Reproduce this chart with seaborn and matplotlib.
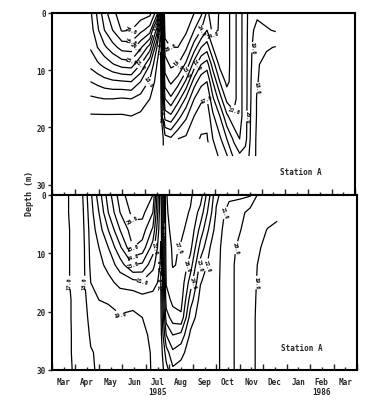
import numpy as np
import pandas as pd
import seaborn as sns
import matplotlib.pyplot as plt

nan = np.nan

# x axis: months since 1 Mar 1985
month_names = ['Mar', 'Apr', 'May', 'Jun', 'Jul', 'Aug', 'Sep', 'Oct', 'Nov', 'Dec', 'Jan', 'Feb', 'Mar']
year_labels = ['1985', '1986']
levels = [16, 17, 18, 19, 20, 21, 22, 23, 24, 25, 26, 27]

# upper section: sampling times and depths
time_top = [1.65, 1.95, 2.25, 2.6, 3.0, 3.4, 3.8, 4.2, 4.5, 4.65, 4.85, 5.1, 5.4, 5.75,
            6.1, 6.4, 6.65, 6.9, 7.2, 7.5, 7.8, 8.05, 8.3, 8.55, 8.8, 9.2, 9.6]
depth_top = [0, 3, 6, 9, 12, 15, 18, 22, 25]
# one profile per sampling date (surface -> bottom)
profiles_top = [
    [21.8, 21.5, 21.1, 20.3, 19.0, 17.8, 16.9, 16.6, 16.5],
    [23.2, 22.8, 22.0, 20.8, 19.3, 17.9, 16.9, 16.6, 16.5],
    [24.6, 24.0, 22.8, 21.3, 19.6, 18.0, 16.9, 16.6, 16.5],
    [25.7, 25.0, 23.6, 21.9, 19.8, 18.0, 16.9, 16.6, 16.5],
    [26.6, 26.1, 24.4, 22.4, 19.9, 17.9, 16.9, 16.6, 16.5],
    [26.6, 26.0, 24.5, 22.5, 20.0, 18.0, 17.0, 16.6, 16.5],
    [26.5, 25.3, 23.2, 21.0, 19.0, 17.6, 16.8, 16.5, 16.4],
    [26.3, 24.5, 21.5, 19.0, 17.8, 17.0, 16.6, 16.4, 16.3],
    [24.5, 20.5, 18.0, 17.0, 16.6, 16.4, 16.3, 16.2, 16.2],
    [20.5, 17.2, 16.6, 16.4, 16.3, 16.3, 16.2, 16.2, 16.2],
    [26.9, 26.5, 25.5, 24.5, 23.5, 22.0, 20.5, 17.5, nan],
    [26.9, 26.7, 26.0, 25.2, 24.2, 22.8, 20.8, 17.8, nan],
    [26.9, 26.7, 26.0, 25.0, 23.5, 21.5, 19.5, 17.0, nan],
    [26.8, 26.2, 25.2, 23.8, 21.8, 19.8, 18.2, 16.8, nan],
    [26.0, 25.0, 23.5, 21.5, 19.5, 18.0, 17.0, 16.3, nan],
    [25.2, 24.0, 22.0, 20.0, 18.3, 17.2, 16.4, 15.9, nan],
    [23.8, 23.0, 21.5, 19.5, 18.0, 17.0, 16.3, 15.9, nan],
    [24.5, 24.3, 23.0, 21.5, 20.0, 18.8, 17.8, 17.0, 16.4],
    [23.9, 23.9, 23.9, 23.3, 22.0, 20.5, 19.0, 17.8, 17.2],
    [23.4, 23.4, 23.4, 23.4, 23.3, 22.3, 20.8, 19.0, 17.9],
    [22.4, 22.4, 22.4, 22.4, 22.4, 22.4, 21.8, 20.2, 19.2],
    [21.4, 21.4, 21.4, 21.4, 21.4, 21.4, 21.4, 21.0, 19.8],
    [20.4, 20.4, 20.4, 20.4, 20.4, 20.4, 20.4, 20.3, 19.6],
    [19.3, 19.2, 19.1, 19.05, 18.95, 18.9, 18.8, 18.7, 18.6],
    [19.2, 18.7, 18.3, 18.1, 18.05, 17.9, 17.9, 17.8, 17.8],
    [19.4, 18.9, 18.1, 17.7, 17.6, 17.5, 17.5, 17.5, 17.5],
    [19.5, 19.1, 17.95, 17.6, 17.5, 17.4, 17.4, 17.4, 17.4],
]

# lower section
time_bot = [0.45, 0.9, 1.3, 1.65, 2.0, 2.4, 2.9, 3.45, 3.85, 4.3, 4.63, 4.87, 5.15, 5.5,
            5.9, 6.33, 6.75, 7.0, 7.55, 8.05, 8.45, 8.8, 9.2, 9.6]
depth_bot = [0, 3, 6, 9, 12, 15, 18, 21, 24, 27, 30]
profiles_bot = [
    [16.6, 16.6, 16.6, 16.6, 16.6, 16.6, 16.6, 16.6, 16.5, 16.5, 16.5],
    [17.3, 17.3, 17.2, 17.2, 17.2, 17.2, 17.1, 17.1, 17.1, 17.1, 17.05],
    [17.95, 17.8, 17.7, 17.6, 17.6, 17.6, 17.5, 17.5, 17.5, 17.4, 17.4],
    [19.8, 19.6, 19.4, 19.3, 19.2, 19.0, 18.6, 18.3, 18.1, 17.95, 17.9],
    [21.5, 21.0, 20.5, 20.0, 19.7, 19.4, 19.0, 18.6, 18.3, 18.1, 18.1],
    [23.5, 23.0, 22.0, 21.0, 20.3, 19.7, 19.1, 18.7, 18.5, 18.3, 18.2],
    [25.5, 25.0, 24.0, 22.8, 21.5, 20.3, 19.4, 18.9, 18.6, 18.4, 18.3],
    [26.8, 26.3, 25.6, 25.0, 23.0, 20.6, 19.3, 18.8, 18.6, 18.4, 18.3],
    [26.8, 26.3, 25.5, 24.6, 22.8, 20.8, 19.6, 19.0, 18.8, 18.7, 18.6],
    [26.0, 25.0, 23.8, 22.5, 21.3, 20.3, 19.7, 19.4, 19.2, 19.1, 19.1],
    [20.3, 20.2, 20.1, 19.95, 19.9, 19.8, 19.7, 19.6, 19.5, 19.4, 19.4],
    [26.95, 26.9, 26.8, 26.6, 26.4, 26.1, 25.5, 24.5, 23.0, 21.5, 20.6],
    [27.4, 27.3, 27.2, 27.1, 27.05, 26.7, 26.3, 25.5, 24.0, 22.8, 21.8],
    [27.3, 27.2, 27.1, 26.95, 26.9, 26.7, 26.4, 25.8, 23.7, 22.3, 21.6],
    [27.1, 26.95, 26.8, 26.3, 25.5, 24.5, 23.5, 22.5, 21.8, 21.5, 21.3],
    [26.5, 25.6, 24.6, 23.6, 22.6, 22.05, 21.6, 21.45, 21.4, 21.35, 21.3],
    [23.9, 23.3, 22.6, 21.95, 21.7, 21.5, 21.4, 21.35, 21.3, 21.3, 21.3],
    [22.2, 21.9, 21.6, 21.4, 21.35, 21.3, 21.3, 21.3, 21.3, 21.3, 21.3],
    [21.3, 20.5, 20.3, 20.2, 20.15, 20.15, 20.15, 20.15, 20.15, 20.15, 20.15],
    [21.2, 20.3, 20.0, 19.85, 19.8, 19.8, 19.8, 19.8, 19.8, 19.8, 19.8],
    [21.1, 19.6, 19.4, 19.3, 19.3, 19.3, 19.3, 19.3, 19.3, 19.3, 19.3],
    [19.8, 19.5, 19.3, 19.1, 18.95, 18.9, 18.85, 18.8, 18.8, 18.8, 18.8],
    [19.8, 19.4, 18.95, 18.7, 18.6, 18.6, 18.6, 18.6, 18.6, 18.6, 18.6],
    [19.7, 19.2, 18.8, 18.6, 18.5, 18.5, 18.5, 18.5, 18.5, 18.5, 18.5],
]

sns.set_style('ticks')
plt.rcParams['font.family'] = ['DejaVu Sans Mono', 'DejaVu Sans']
plt.rcParams['font.weight'] = 'bold'

fig = plt.figure(figsize=(3.71, 4.14), dpi=100)
ax_top = fig.add_axes([52 / 371, 218 / 414, 303 / 371, 182 / 414])
ax_bot = fig.add_axes([52 / 371, 43 / 414, 305 / 371, 175 / 414])


def draw_section(ax, times, depths, profiles, ymax, station):
    grid = pd.DataFrame(np.array(profiles).T, index=depths, columns=times)
    field = np.ma.masked_invalid(grid.values)
    cs = ax.contour(grid.columns.values, grid.index.values, field, levels=levels,
                    colors='black', linewidths=0.9)
    ax.clabel(cs, fmt='%.1f', fontsize=3.8, inline=True, inline_spacing=0.5)
    ax.set_xlim(0, 13)
    ax.set_ylim(ymax, 0)
    ax.set_yticks([0, 10, 20, 30])
    ax.set_xticks(np.arange(0, 14, 1))
    ax.set_xticks(np.arange(0.5, 13, 1), minor=True)
    ax.tick_params(axis='x', which='both', direction='in', length=4, width=1)
    ax.tick_params(axis='x', which='minor', length=2.5)
    ax.tick_params(axis='y', direction='out', length=3, width=1, labelsize=5.5, pad=1.5)
    for s in ax.spines.values():
        s.set_linewidth(1.5)
        s.set_color('black')
    ax.text(0.82, 0.13, station, transform=ax.transAxes, fontsize=5.5,
            fontweight='bold', ha='center', va='center')


draw_section(ax_top, time_top, depth_top, profiles_top, 31.8, 'Station A')
draw_section(ax_bot, time_bot, depth_bot, profiles_bot, 30, 'Station A')

ax_top.set_xticklabels([])
ax_top.set_xticklabels([], minor=True)
ax_bot.set_xticklabels([])
ax_bot.set_xticklabels(month_names, minor=True, fontsize=5.5)
ax_bot.tick_params(axis='x', which='minor', pad=5)

# year labels under Jul and Feb
ax_bot.text(4.5, -0.125, year_labels[0], transform=ax_bot.get_xaxis_transform(),
            ha='center', va='center', fontsize=5.5, fontweight='bold')
ax_bot.text(11.5, -0.125, year_labels[1], transform=ax_bot.get_xaxis_transform(),
            ha='center', va='center', fontsize=5.5, fontweight='bold')

fig.text(30 / 371, 1 - 193 / 414, 'Depth (m)', rotation=90, ha='center', va='center',
         fontsize=6, fontweight='bold')

fig.savefig('out.png', dpi=100)
